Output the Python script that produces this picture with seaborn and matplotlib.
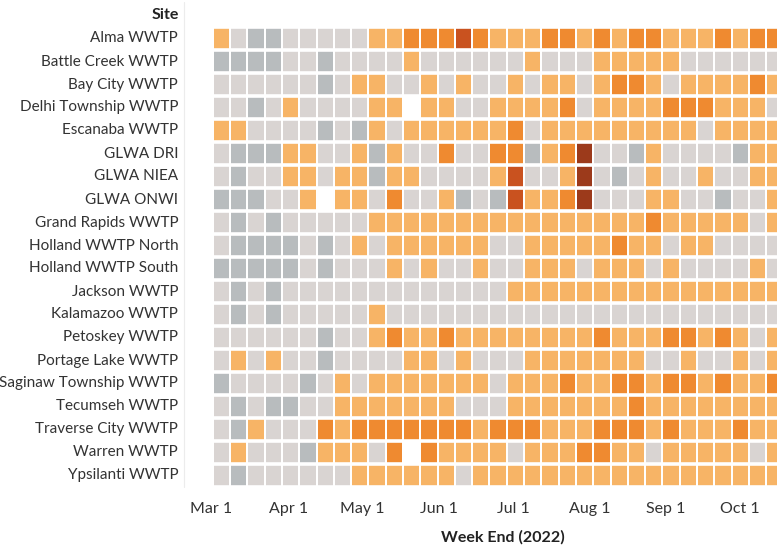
import numpy as np
import pandas as pd
import matplotlib
matplotlib.use("Agg")
import matplotlib.pyplot as plt
from matplotlib.colors import ListedColormap
from matplotlib.lines import Line2D
import seaborn as sns

# --- data: one list per site, one value per week (33 weeks) ---
# 0 no sample, 1 not detected, 2 low, 3 moderate, 4 high, 5 very high, 6 highest
sites = ["Alma WWTP", "Battle Creek WWTP", "Bay City WWTP", "Delhi Township WWTP",
         "Escanaba WWTP", "GLWA DRI", "GLWA NIEA", "GLWA ONWI", "Grand Rapids WWTP",
         "Holland WWTP North", "Holland WWTP South", "Jackson WWTP", "Kalamazoo WWTP",
         "Petoskey WWTP", "Portage Lake WWTP", "Saginaw Township WWTP", "Tecumseh WWTP",
         "Traverse City WWTP", "Warren WWTP", "Ypsilanti WWTP"]

week_end = pd.date_range("2022-03-05", periods=33, freq="7D")
month_ticks = pd.date_range("2022-03-01", "2022-10-01", freq="MS")

alma         = [3,2,1,1,2,2,2,2,2,3,3,4,4,4,5,4,3, 3,3,4,4,3,4,3,4,4,3,3,3,4,3,4,4]
battle_creek = [1,1,1,1,2,2,1,2,2,2,2,3,2,2,2,2,2, 2,3,2,2,2,3,3,3,3,3,2,2,2,2,2,2]
bay_city     = [2,2,2,2,2,2,1,2,3,3,2,2,3,2,3,2,2, 3,2,3,3,2,3,4,4,3,2,3,3,3,3,4,3]
delhi        = [2,2,1,2,3,2,2,2,2,3,3,0,3,3,2,2,3, 3,3,3,4,2,3,3,3,3,4,4,4,3,3,3,2]
escanaba     = [3,3,2,2,2,2,1,2,1,3,2,3,3,3,3,3,3, 4,2,3,3,3,3,3,3,3,3,3,2,3,3,3,3]
glwa_dri     = [2,1,1,1,3,3,2,2,3,1,3,2,2,4,2,2,4, 4,1,3,4,6,2,2,1,3,2,2,2,2,1,3,3]
glwa_niea    = [2,1,2,2,3,3,2,3,3,1,3,3,2,2,2,2,3, 5,2,2,3,6,2,1,2,3,2,2,3,2,2,3,3]
glwa_onwi    = [1,1,1,2,2,3,0,3,3,2,4,2,2,3,1,2,1, 5,3,3,4,6,2,2,2,3,3,2,2,1,2,2,3]
grand_rapids = [2,1,2,1,2,2,2,2,2,3,3,3,3,3,3,3,3, 3,3,3,3,3,3,3,3,4,3,3,3,3,3,2,3]
holland_n    = [2,1,1,1,1,2,1,2,3,2,3,3,3,3,3,3,2, 2,3,3,3,3,3,4,3,3,2,3,3,2,2,2,2]
holland_s    = [1,1,1,1,1,2,1,2,2,2,3,2,3,2,2,3,2, 2,3,3,3,2,3,3,3,2,3,2,2,2,2,3,2]
jackson      = [2,1,2,1,2,2,2,2,2,2,2,2,2,2,2,2,2, 3,3,3,3,3,3,3,3,3,3,3,3,3,3,3,3]
kalamazoo    = [2,1,2,1,2,2,2,2,2,3,2,2,2,2,2,2,2, 2,2,2,2,2,2,2,2,2,2,2,2,2,2,2,2]
petoskey     = [2,2,2,2,2,2,1,2,2,3,4,3,3,4,3,3,3, 3,3,3,3,3,4,3,3,3,4,4,3,4,3,2,3]
portage_lake = [2,3,2,3,2,2,1,2,2,2,2,3,3,2,3,2,2, 2,3,3,3,3,3,3,3,2,2,3,2,2,3,2,3]
saginaw      = [1,2,2,2,2,1,2,3,2,3,3,3,3,3,3,3,2, 3,3,3,4,3,3,4,4,3,4,4,3,4,3,3,4]
tecumseh     = [2,1,2,1,1,2,2,3,3,3,3,3,3,3,2,2,2, 3,3,3,3,3,3,3,4,3,3,3,3,3,3,3,3]
traverse     = [2,1,3,2,2,2,4,3,4,4,4,4,4,4,4,3,4, 4,4,3,3,3,4,4,4,3,4,3,3,3,4,3,3]
warren       = [2,3,2,2,2,1,3,3,3,2,4,0,4,3,3,3,3, 2,3,3,3,4,4,3,3,2,3,3,3,3,3,2,3]
ypsilanti    = [2,1,2,2,2,2,2,2,3,3,3,3,3,3,2,3,3, 3,3,3,3,3,3,3,3,3,3,3,3,3,3,3,3]

level_colors = ["#ffffff", "#b8bcbe", "#d9d4d2", "#f7b466", "#ef8a30", "#c9521f", "#9c3a1b"]

df = pd.DataFrame([alma, battle_creek, bay_city, delhi, escanaba, glwa_dri, glwa_niea,
                   glwa_onwi, grand_rapids, holland_n, holland_s, jackson, kalamazoo,
                   petoskey, portage_lake, saginaw, tecumseh, traverse, warren, ypsilanti],
                  index=sites, columns=week_end)

sns.set_theme(style="white")
plt.rcParams["font.family"] = ["Lato", "DejaVu Sans"]

fig = plt.figure(figsize=(7.77, 5.48), dpi=100)
# axes runs a little past the right edge, like the cropped original
ax = fig.add_axes([211.5 / 777, 1 - 487 / 548, 572 / 777, 460 / 548])

sns.heatmap(df, ax=ax, cmap=ListedColormap(level_colors), vmin=-0.5, vmax=6.5,
            cbar=False, linewidths=1.2, linecolor="white",
            xticklabels=False, yticklabels=True)

# wider white gaps between rows
ax.hlines(np.arange(0, len(sites) + 1), 0, len(week_end), colors="white", linewidth=2.6)

tick_pos = (month_ticks - week_end[0]).days / 7 + 0.5
ax.set_xticks(tick_pos)
ax.set_xticklabels([d.strftime("%b ") + str(d.day) for d in month_ticks])
ax.tick_params(axis="x", length=0, pad=11, labelsize=11.5, labelcolor="#333333")
ax.tick_params(axis="y", length=0, pad=24, labelsize=11, labelcolor="#333333")
plt.setp(ax.get_yticklabels(), rotation=0)
plt.setp(ax.get_xticklabels(), rotation=0)

ax.set_ylabel("")
ax.set_xlabel("Week End (2022)", fontsize=11.5, fontweight="bold", color="#222222")
ax.xaxis.set_label_coords(0.51, -0.093)

fig.text(179 / 777, 1 - 15 / 548, "Site", ha="right", va="center",
         fontsize=11.5, fontweight="bold", color="#222222")
fig.add_artist(Line2D([184 / 777, 184 / 777], [1 - 487 / 548, 1 - 2 / 548],
                      color="#ececec", linewidth=0.8))

fig.savefig("out.png", dpi=100)
